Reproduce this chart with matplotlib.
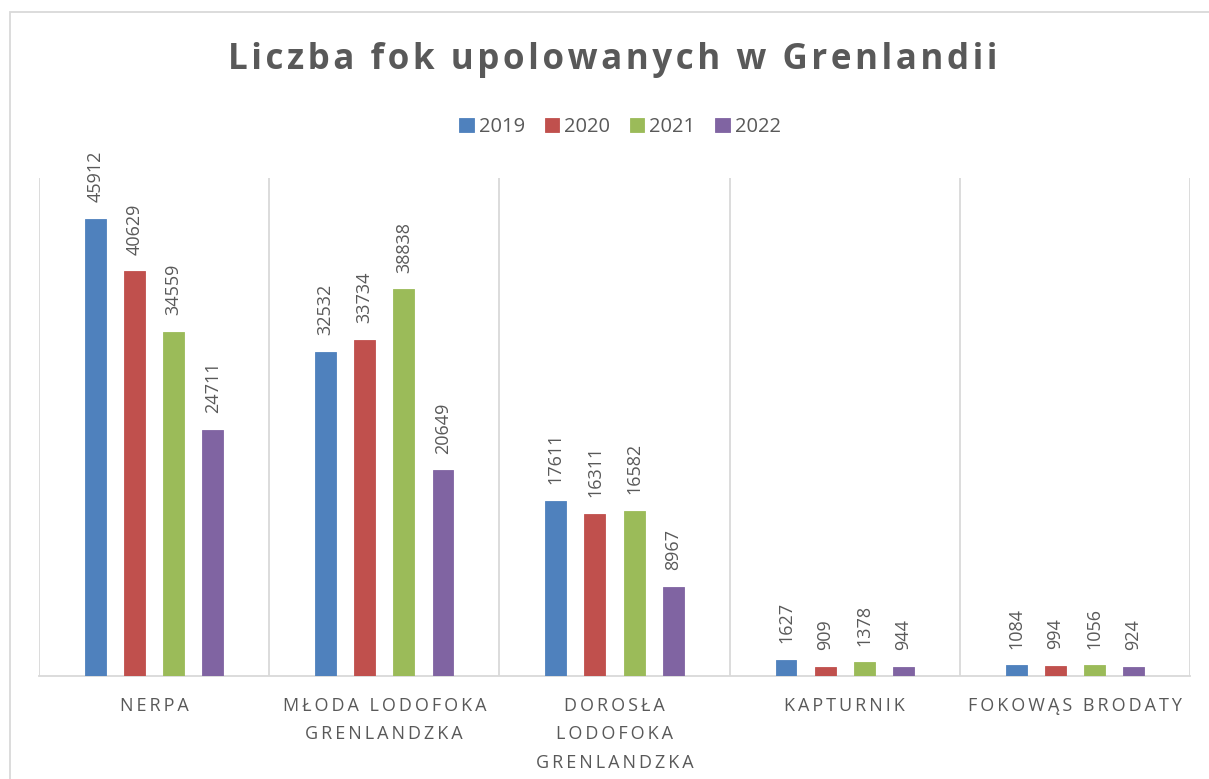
import matplotlib
matplotlib.use("Agg")
import matplotlib.pyplot as plt
import numpy as np
from matplotlib.patches import Rectangle

plt.rcParams["font.family"] = ["Open Sans", "DejaVu Sans"]

categories = ["NERPA", "MŁODA LODOFOKA\nGRENLANDZKA", "DOROSŁA\nLODOFOKA\nGRENLANDZKA",
              "KAPTURNIK", "FOKOWĄS BRODATY"]
years = ["2019", "2020", "2021", "2022"]
v2019 = [45912, 32532, 17611, 1627, 1084]
v2020 = [40629, 33734, 16311, 909, 994]
v2021 = [34559, 38838, 16582, 1378, 1056]
v2022 = [24711, 20649, 8967, 944, 924]
colors = ["#4F81BD", "#C0504D", "#9BBB59", "#8064A2"]

TEXT = "#595959"
GRID = "#D9D9D9"


def spaced(s, sep="\u2009"):
    # fake letter spacing the way Excel renders these labels
    return "\n".join(sep.join(line) for line in s.split("\n"))


fig = plt.figure(figsize=(12.09, 7.79), dpi=100)
ax = fig.add_axes([39 / 1209, 103 / 779, 1151 / 1209, 498 / 779])

x = np.arange(len(categories))
width = 0.091
step = 0.17
series = [v2019, v2020, v2021, v2022]
for i, (vals, c, yr) in enumerate(zip(series, colors, years)):
    pos = x + (i - 1.5) * step
    bars = ax.bar(pos, vals, width, color=c, edgecolor=c, linewidth=0.6, label=yr, zorder=3)
    for b, v in zip(bars, vals):
        ax.annotate(str(v), (b.get_x() + b.get_width() / 2, v), xytext=(0, 12),
                    textcoords="offset points", rotation=90, ha="center", va="bottom",
                    fontsize=13, color=TEXT)

ax.set_xlim(-0.5, len(categories) - 0.5)
ax.set_ylim(0, 50000)
ax.set_yticks([])
ax.set_xticks(x)
ax.set_xticklabels([spaced(c) for c in categories], color=TEXT, fontsize=13,
                   linespacing=1.75, va="top")
ax.set_xticks(np.arange(len(categories) + 1) - 0.5, minor=True)
ax.tick_params(axis="x", which="both", length=0, pad=15)
ax.grid(axis="x", which="minor", color=GRID, linewidth=1.3, zorder=0)
for s in ["top", "left", "right"]:
    ax.spines[s].set_visible(False)
ax.spines["bottom"].set_color(GRID)
ax.spines["bottom"].set_linewidth(1.3)

fig.text(613 / 1209, 1 - 60 / 779, spaced("Liczba fok upolowanych w Grenlandii", "\u200a"),
         ha="center", va="center", fontsize=25.2, fontweight="bold", color=TEXT)

fig.legend(loc="center", bbox_to_anchor=(620 / 1209, 1 - 127 / 779), ncol=4, frameon=False,
           fontsize=14.5, handlelength=0.7, handleheight=0.7, handletextpad=0.25,
           columnspacing=1.0, labelcolor=TEXT)

# chart area border, right and bottom edges fall outside the picture
fig.patches.append(Rectangle((10 / 1209, -10 / 779), 1220 / 1209, 777 / 779,
                             transform=fig.transFigure, fill=False,
                             edgecolor=GRID, linewidth=1.3))

fig.savefig("out.png", dpi=100)
